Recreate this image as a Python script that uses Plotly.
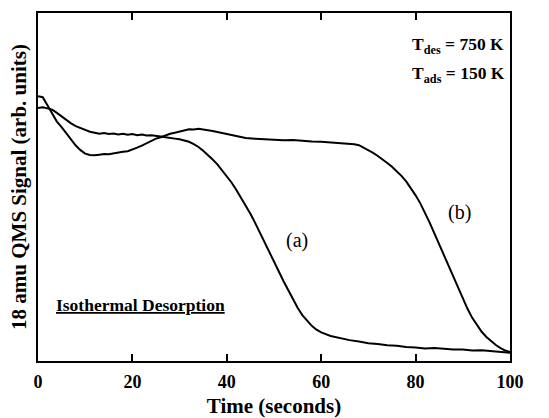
import plotly.graph_objects as go

time_a = [0, 1, 2, 3, 4, 5, 6, 7, 8, 9, 10, 11, 12, 13, 14, 15, 16, 17, 18, 19, 20,
          21, 22, 23, 24, 25, 26, 27, 28, 29, 30, 31, 32, 33, 34, 35, 36, 37, 38, 39, 40,
          41, 42, 43, 44, 45, 46, 47, 48, 49, 50, 51, 52, 53, 54, 55, 56, 57, 58, 59, 60,
          62, 64, 66, 68, 70, 72, 74, 76, 78, 80, 82, 84, 86, 88, 90, 92, 94, 96, 98, 100]
signal_a = [72.7, 72.9, 72.6, 72.2, 71.3, 70.3, 69.2, 68.3, 67.5, 66.9, 66.3, 65.9, 65.6, 65.3,
            65.5, 65.2, 65.4, 65.1, 65.3, 65.0, 65.2, 64.9, 65.1, 64.8, 64.9, 64.6, 64.5, 64.3,
            64.2, 63.9, 63.7, 63.3, 63.0, 62.3, 61.5, 60.4, 59.2, 57.9, 56.5, 54.8, 53.2, 51.3,
            49.2, 47.0, 44.7, 42.3, 39.7, 37.0, 34.2, 31.4, 28.6, 25.8, 23.0, 20.3, 17.7, 15.3,
            13.2, 11.5, 10.1, 9.0, 8.2, 7.2, 6.5, 6.0, 5.6, 5.1, 4.9, 4.5, 4.4, 4.0, 3.9, 3.6,
            3.7, 3.4, 3.3, 3.3, 3.0, 3.1, 2.8, 2.7, 2.4]

time_b = [0, 1, 2, 3, 4, 5, 6, 7, 8, 9, 10, 11, 12, 13, 14, 15, 16, 17, 18, 19, 20,
          21, 22, 23, 24, 25, 26, 27, 28, 29, 30, 31, 32, 33, 34, 35, 36, 37, 38, 39, 40,
          41, 42, 43, 44, 46, 48, 50, 52, 54, 56, 58, 60, 62, 64, 66, 67, 68, 69, 70,
          71, 72, 73, 74, 75, 76, 77, 78, 79, 80, 81, 82, 83, 84, 85, 86, 87, 88, 89, 90,
          91, 92, 93, 94, 95, 96, 97, 98, 99, 100]
signal_b = [76.1, 75.8, 73.5, 71.0, 68.8, 67.2, 65.5, 63.6, 61.9, 60.6, 59.6, 59.2, 59.1, 59.3,
            59.5, 59.4, 59.7, 59.8, 60.1, 60.3, 60.7, 61.3, 61.9, 62.6, 63.3, 63.9, 64.3, 64.9,
            65.3, 65.6, 66.0, 66.3, 66.6, 66.5, 66.7, 66.5, 66.4, 66.1, 65.8, 65.5, 65.2, 64.9,
            64.5, 64.3, 64.1, 63.9, 63.7, 63.7, 63.4, 63.5, 63.2, 63.1, 63.0, 62.8, 62.7, 62.4,
            62.3, 62.0, 61.3, 60.6, 59.8, 58.9, 58.0, 56.9, 55.8, 54.6, 53.2, 51.6, 49.7, 47.6,
            45.3, 42.6, 39.7, 36.6, 33.5, 30.3, 27.2, 24.0, 20.8, 17.8, 15.0, 12.4, 10.2, 8.4,
            6.9, 5.7, 4.6, 3.7, 3.0, 2.6]

x_ticks = [0, 20, 40, 60, 80, 100]
x_tick_labels = ["0", "20", "40", "60", "80", "100"]

SERIF = "Liberation Serif, Times New Roman, serif"

fig = go.Figure()
fig.add_trace(go.Scatter(x=time_a, y=signal_a, mode="lines",
                         line=dict(color="black", width=2), showlegend=False))
fig.add_trace(go.Scatter(x=time_b, y=signal_b, mode="lines",
                         line=dict(color="black", width=2), showlegend=False))

fig.update_layout(
    width=549, height=418,
    margin=dict(l=38, r=39, t=13, b=57),
    paper_bgcolor="white", plot_bgcolor="white",
    font=dict(family=SERIF, color="black"),
    xaxis=dict(range=[0, 100], tickvals=x_ticks, ticktext=x_tick_labels,
               ticks="inside", ticklen=7, tickwidth=1.5, tickcolor="black",
               showline=True, linecolor="black", linewidth=1.5, mirror="ticks",
               showgrid=False, zeroline=False, ticklabelstandoff=4, automargin=False,
               tickfont=dict(family=SERIF, size=18, color="black", weight="bold"),
               title=dict(text="<b>Time (seconds)</b>", font=dict(family=SERIF, size=21),
                          standoff=12)),
    yaxis=dict(range=[0, 100], showticklabels=False, ticks="",
               showline=True, linecolor="black", linewidth=1.5, mirror=True,
               showgrid=False, zeroline=False, automargin=False,
               title=dict(text="<b>18 amu QMS Signal (arb. units)</b>",
                          font=dict(family=SERIF, size=21), standoff=4)),
)

ann_font = dict(family=SERIF, size=17.5, color="black")
fig.add_annotation(x=89, y=90.8, text="<b>T<sub>des</sub> = 750 K</b>", showarrow=False, font=ann_font)
fig.add_annotation(x=89, y=82.2, text="<b>T<sub>ads</sub> = 150 K</b>", showarrow=False, font=ann_font)
fig.add_annotation(x=54.9, y=34.5, text="(a)", showarrow=False, font=dict(family=SERIF, size=20, color="black"))
fig.add_annotation(x=89.4, y=42.8, text="(b)", showarrow=False, font=dict(family=SERIF, size=20, color="black"))
fig.add_annotation(x=21.8, y=16.1, text="<b><u>Isothermal Desorption</u></b>", showarrow=False,
                   font=dict(family=SERIF, size=17.5, color="black"))

fig.write_html("out.html")
